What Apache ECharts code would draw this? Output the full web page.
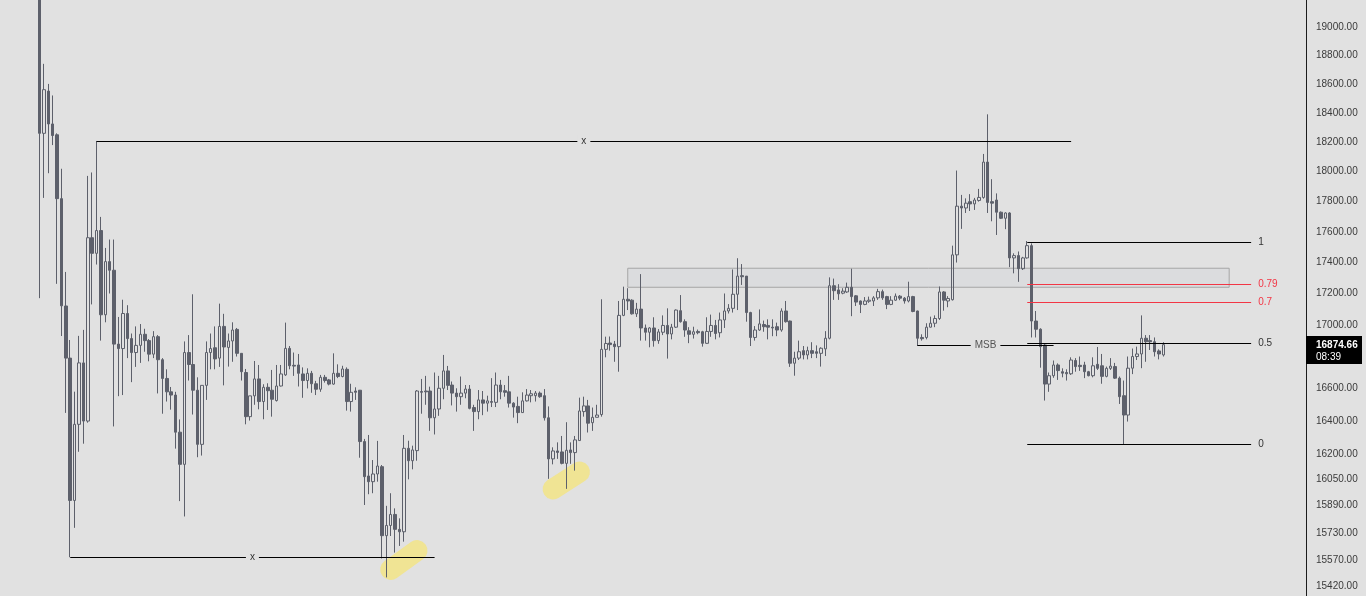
<!DOCTYPE html>
<html><head><meta charset="utf-8">
<script src="https://cdn.jsdelivr.net/npm/echarts@6/dist/echarts.min.js"></script>
<style>html,body{margin:0;padding:0;background:#e1e1e1;overflow:hidden}#c{width:1366px;height:596px}</style>
</head><body><div id="c"></div>
<script>
// ---- data (prices) ----
const openP = [
19400,18260,18550,18324,18250,17820,17120,16790,15921,16380,
16760,16400,17562,17460,17609,17064,17406,17350,16878,16850,
17072,16913,16825,16870,16940,16900,16815,16925,16780,16663,
16580,16560,16332,16137,16825,16750,16590,16258,16620,16825,
16855,16790,16990,16857,16898,16971,16820,16700,16427,16555,
16660,16520,16608,16590,16526,16616,16685,16851,16745,16747,
16691,16650,16695,16630,16596,16670,16654,16628,16695,16675,
16720,16520,16585,16590,16275,16067,16033,16079,16123,15713,
15773,15838,15750,15736,16234,16159,16220,16582,16585,16585,
16420,16474,16602,16710,16622,16572,16550,16572,16597,16483,
16458,16530,16510,16520,16515,16622,16587,16580,16510,16490,
16452,16524,16556,16556,16572,16556,16420,16170,16218,16212,
16143,16224,16208,16281,16458,16493,16390,16423,16440,16845,
16885,16878,16862,17060,17163,17157,17070,17100,16980,16953,
16980,16900,16953,16996,16942,16985,17090,17020,16962,16940,
16958,16956,16883,16958,16996,16950,17031,17088,17105,17195,
17315,17312,17078,16920,16967,17002,16996,16985,16988,16967,
17088,17024,16758,16790,16837,16810,16837,16830,16820,16848,
16915,17250,17223,17202,17210,17240,17185,17152,17130,17150,
17152,17172,17212,17180,17130,17157,17183,17170,17152,17180,
17088,16920,16920,16985,17010,17040,17210,17152,17160,17450,
17770,17758,17800,17785,17808,17828,18065,17800,17811,17730,
17690,17725,17430,17445,17360,17430,17510,17024,16972,16872,
16628,16680,16747,16705,16700,16692,16775,16745,16747,16705,
16680,16751,16742,16676,16726,16737,16665,16556,16437,16727,
16800,16816,16915,16900,16893,16835,16810];
const highP = [
19550,18740,18600,18520,18260,18020,17339,16904,16581,16930,
16968,17972,17995,18208,17699,17495,17550,17550,17050,17160,
17125,16945,16990,17005,16975,16910,16960,16935,16790,16720,
16610,16580,16410,16895,16935,17195,16670,16620,16895,16945,
16990,17135,17070,16945,17016,16980,16820,16722,16555,16772,
16747,16627,16633,16716,16747,16747,17014,16866,16825,16816,
16732,16726,16710,16648,16685,16685,16660,16820,16751,16742,
16732,16630,16608,16591,16291,16315,16163,16279,16133,15889,
15964,15874,15815,16315,16280,16250,16591,16660,16679,16612,
16700,16679,16810,16741,16644,16602,16675,16622,16622,16500,
16591,16585,16556,16665,16700,16654,16622,16679,16516,16550,
16577,16597,16591,16585,16582,16597,16490,16240,16270,16309,
16393,16270,16309,16544,16550,16530,16483,16500,17163,16925,
16926,16898,17152,17244,17234,17163,17140,17325,17002,16985,
17048,16973,17060,17105,17006,17098,17190,17035,16985,16988,
16970,16962,17048,17065,17031,17078,17200,17132,17355,17428,
17390,17312,17083,16992,17098,17027,17035,17035,17014,17105,
17152,17027,16830,16900,16866,16862,16890,16870,16858,16960,
17304,17296,17260,17234,17270,17360,17190,17155,17177,17180,
17183,17230,17225,17185,17183,17200,17190,17177,17276,17185,
17090,16940,17010,17052,17060,17245,17215,17183,17510,18008,
17845,17822,17850,17825,17885,18120,18390,17950,17855,17735,
17730,17730,17460,17472,17437,17540,17525,17088,16978,16878,
16700,16775,16757,16726,16720,16795,16790,16800,16767,16710,
16795,16860,16816,16737,16790,16760,16675,16650,16800,16850,
16862,17060,16935,16935,16920,16845,16890];
const lowP = [
17170,17825,17990,18180,17262,16929,16450,15587,15759,16213,
16262,16390,17130,17387,16900,17016,17200,16367,16553,16560,
16790,16640,16735,16760,16830,16770,16790,16570,16445,16520,
16470,16232,15917,15826,16650,16440,16180,16190,16530,16720,
16720,16735,16620,16737,16767,16800,16650,16380,16403,16500,
16472,16411,16468,16427,16520,16613,16679,16720,16679,16613,
16543,16601,16574,16560,16580,16637,16620,16624,16665,16670,
16464,16458,16530,16177,15894,15958,15964,16033,15580,15470,
15711,15614,15653,15678,16047,16107,16159,16445,16500,16340,
16318,16432,16534,16591,16496,16458,16500,16540,16472,16340,
16411,16436,16458,16486,16486,16534,16550,16483,16421,16387,
16450,16520,16515,16520,16543,16403,16050,16137,16170,16137,
15990,16140,16099,16281,16427,16330,16340,16423,16427,16795,
16837,16767,16705,17055,17094,17065,17050,16900,16900,16858,
16862,16880,16935,16787,16908,16980,17014,16924,16884,16913,
16940,16862,16880,16924,16908,16920,16980,17072,17078,17094,
17255,17020,16866,16900,16962,16956,16908,16928,16928,16956,
17014,16735,16680,16778,16782,16782,16790,16790,16737,16803,
16908,17159,17159,17195,17204,17055,17120,17075,17125,17140,
17120,17159,17159,17100,17125,17152,17157,17135,17143,17080,
16866,16900,16908,16983,16985,17031,17090,17112,17155,17400,
17620,17725,17738,17745,17800,17820,17725,17670,17580,17685,
17618,17370,17330,17275,17352,17425,16920,16920,16730,16526,
16580,16667,16654,16670,16650,16685,16705,16710,16665,16676,
16670,16716,16630,16670,16716,16660,16505,16260,16397,16690,
16778,16727,16767,16841,16800,16782,16800];
const closeP = [
18260,18560,18324,18245,17820,17121,16790,15921,16380,16760,
16400,17562,17460,17609,17064,17406,17350,16878,16850,17072,
16913,16825,16870,16940,16900,16815,16925,16780,16663,16580,
16560,16332,16137,16825,16750,16590,16258,16620,16825,16850,
16785,16990,16860,16898,16967,16820,16705,16427,16555,16660,
16520,16608,16587,16534,16616,16691,16851,16742,16740,16695,
16650,16695,16630,16596,16670,16650,16628,16695,16675,16722,
16520,16577,16577,16275,16063,16033,16079,16127,15713,15773,
15838,15750,15736,16234,16159,16224,16585,16577,16580,16420,
16474,16602,16710,16620,16572,16550,16572,16597,16478,16458,
16530,16510,16524,16515,16622,16580,16577,16510,16486,16452,
16524,16560,16568,16572,16550,16420,16170,16218,16209,16143,
16222,16208,16285,16462,16493,16387,16423,16437,16845,16882,
16875,16862,17060,17163,17152,17070,17100,16980,16953,16980,
16900,16955,16996,16942,16985,17094,17020,16967,16940,16956,
16950,16883,16958,16996,16945,17031,17088,17105,17195,17312,
17308,17078,16920,16967,17006,16988,16985,16980,16967,17088,
17020,16758,16790,16830,16810,16837,16820,16820,16852,16915,
17250,17218,17198,17215,17240,17180,17145,17130,17152,17157,
17172,17212,17172,17130,17157,17183,17170,17152,17180,17085,
16915,16912,16985,17010,17040,17210,17157,17168,17450,17770,
17758,17790,17785,17811,17828,18065,17795,17790,17730,17690,
17725,17430,17445,17360,17430,17510,17024,16972,16862,16628,
16680,16747,16712,16696,16692,16778,16737,16737,16705,16680,
16742,16726,16676,16726,16740,16665,16550,16437,16727,16800,
16816,16915,16893,16893,16830,16816,16874.66];

const futureSlots = 32;
const categories = Array.from({length: openP.length + futureSlots}, (_, i) => String(i + 1));
const yTickLabels = [15420,15570,15730,15890,16050,16200,16400,16600,16800,17000,17200,17400,17600,17800,18000,18200,18400,18600,18800,19000];
const lastPrice = 16874.66;
const timerText = '08:39';

// drawings (category index, price)
const rangeTop = {from: 13, to: 235, price: 18208, label: 'x'};
const rangeBottom = {from: 7, to: 90, price: 15587, label: 'x'};
const msb = {from: 200, to: 231, price: 16870, label: 'MSB'};
const fib = {from: 225, to: 276, high: 17535, low: 16260};
const fibLevels = [1, 0.79, 0.7, 0.5, 0];
const fibLabels = ['1', '0.79', '0.7', '0.5', '0'];
const zone = {from: 134, to: 271, top: 17363, bottom: 17240};
const highlights = [
  [[80, 15516], [86, 15626]],
  [[117, 15989], [123, 16091]]
];

const FONT = '"Liberation Sans", Arial, sans-serif';
const BG = '#e1e1e1';
const CANDLE = '#5d606b';
const RED = '#f23645';

const candleData = openP.map((o, i) => [o, closeP[i], lowP[i], highP[i]]);

function plainLine(d, labelCfg) {
  return [
    {coord: [d.from, d.price], lineStyle: {color: '#000', width: 1, type: 'solid'}, label: labelCfg},
    {coord: [d.to, d.price]}
  ];
}
const midLabel = (txt, color) => ({
  show: true, position: 'middle', distance: 0, verticalAlign: 'middle', align: 'center',
  formatter: txt, color: color, fontSize: 10,
  fontFamily: FONT, backgroundColor: BG, padding: [1, 4]
});

const fibLines = fibLevels.map((lv, k) => {
  const price = fib.low * Math.pow(fib.high / fib.low, lv);
  const red = (lv === 0.79 || lv === 0.7);
  return [
    {coord: [fib.from, price], lineStyle: {color: red ? RED : '#000', width: 1, type: 'solid'},
     label: {show: true, position: 'end', distance: 7, formatter: fibLabels[k],
             color: red ? RED : '#333', fontSize: 10, fontFamily: FONT}},
    {coord: [fib.to, price]}
  ];
});

const chart = echarts.init(document.getElementById('c'), null, {renderer: 'canvas'});
chart.setOption({
  backgroundColor: BG,
  animation: false,
  grid: {left: 37.3, right: 60, top: 0, bottom: 0},
  xAxis: {type: 'category', data: categories, show: false, boundaryGap: true},
  yAxis: {
    type: 'log', logBase: 10, position: 'right', min: 15363, max: 19192,
    splitLine: {show: false}, axisTick: {show: false}, minorTick: {show: false},
    axisLine: {show: true, lineStyle: {color: '#1c1c1c', width: 1}},
    axisLabel: {customValues: yTickLabels, formatter: v => Number(v).toFixed(2),
      color: '#3a3a3a', fontSize: 10, fontFamily: FONT, margin: 10}
  },
  series: [
    {
      type: 'line', data: [], silent: true,
      markLine: {
        z: 1, silent: true, symbol: ['none', 'none'], animation: false,
        label: {show: false},
        lineStyle: {color: '#f0e48f', width: 21, cap: 'round', type: 'solid', opacity: 0.95},
        data: highlights.map(h => [{coord: h[0]}, {coord: h[1]}])
      }
    },
    {
      type: 'candlestick', data: candleData, barWidth: 3, clip: true,
      itemStyle: {color: 'transparent', color0: CANDLE, borderColor: CANDLE, borderColor0: CANDLE, borderWidth: 1},
      markArea: {
        silent: true,
        itemStyle: {color: '#dbdcde', borderColor: '#a6a6a6', borderWidth: 1},
        data: [[{coord: [zone.from, zone.top]}, {coord: [zone.to, zone.bottom]}]]
      },
      markLine: {
        silent: true, symbol: ['none', 'none'], animation: false, precision: 2,
        data: [
          plainLine(rangeTop, midLabel(rangeTop.label, '#333')),
          plainLine(rangeBottom, midLabel(rangeBottom.label, '#333')),
          plainLine(msb, midLabel(msb.label, '#555')),
          ...fibLines
        ]
      }
    }
  ]
});

// last-price tag on the price scale, placed through the axis scale
const yPix = chart.convertToPixel({yAxisIndex: 0}, lastPrice);
const gridRight = 1366 - 60;
chart.setOption({
  graphic: [
    {type: 'rect', z: 100, shape: {x: gridRight, y: Math.round(yPix) - 9, width: 56, height: 28},
     style: {fill: '#000'}},
    {type: 'text', z: 101, x: gridRight + 10, y: Math.round(yPix),
     style: {text: lastPrice.toFixed(2), fill: '#fff', font: 'bold 10px ' + FONT, verticalAlign: 'middle'}},
    {type: 'text', z: 101, x: gridRight + 10, y: Math.round(yPix) + 12,
     style: {text: timerText, fill: '#fff', font: '10px ' + FONT, verticalAlign: 'middle'}}
  ]
});
</script></body></html>
